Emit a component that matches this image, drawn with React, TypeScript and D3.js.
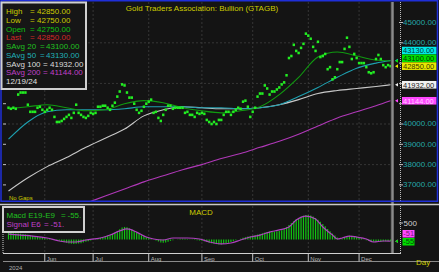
import React, { useEffect } from 'react';
import * as d3 from 'd3';

const W = 439;
const H = 272;

// trading days (weekdays) from 13 May 2024 to 19 Dec 2024
const firstDay = new Date(2024, 4, 13);
const lastDayExclusive = new Date(2024, 11, 20);

const closes = [
  40800, 40750, 40800, 40750, 41450, 41550, 41550, 41550, 40950, 40600,
  40600, 40600, 40800, 40850, 40700, 40600, 40700, 40800, 40700, 40350,
  40100, 40100, 40150, 40250, 40350, 40450, 40300, 40550, 40950, 40550,
  40450, 40350, 40300, 40400, 40550, 40500, 40550, 40850, 40850, 40900,
  40900, 40800, 40700, 40900, 41050, 41350, 41600, 41950, 41900, 41550,
  41300, 41300, 41000, 40700, 40550, 40650, 40850, 41000, 41100, 41200,
  40550, 40600, 40300, 40150, 40450, 40700, 40900, 40900, 40750, 40800,
  40800, 40800, 40800, 40550, 40600, 40450, 40450, 40350, 40550, 40500,
  40550, 40500, 40200, 40100, 40000, 40100, 40000, 40200, 40200, 40450,
  40600, 40600, 40450, 40600, 40700, 40800, 40750, 41100, 41150, 40850,
  40350, 40600, 40800, 41350, 41500, 41500, 41900, 41750, 41450, 41600,
  41600, 41700, 41800, 41950, 42050, 42400, 43250, 43350, 43900, 43600,
  43500, 43750, 43950, 44450, 44350, 44200, 43800, 43600, 44050, 43300,
  43350, 43450, 42700, 42800, 42200, 42300, 42700, 43050, 43050, 43700,
  44250, 43800, 43200, 43450, 43250, 43000, 43000, 43000, 42800, 42550,
  42500, 42550, 43200, 43400, 43200, 42900, 42800, 42900, 42850,
];

// moving averages read at these trading-day indices
const maIdx = [0, 8, 16, 24, 32, 40, 48, 56, 64, 72, 80, 88, 96, 104, 112, 120, 128, 136, 144, 152, 158];
const sma20 = [40750, 40850, 40950, 40800, 40650, 40700, 41000, 41150, 41050, 40800, 40650, 40550, 40650, 40850, 41450, 42300, 43300, 43550, 43350, 43150, 43100];
const sma50 = [39250, 40100, 40600, 40700, 40700, 40700, 40750, 40850, 40850, 40850, 40800, 40800, 40750, 40800, 40950, 41350, 41800, 42300, 42750, 43000, 43130];
const sma100 = [36700, 37350, 37900, 38350, 38850, 39300, 39750, 40400, 40700, 40850, 40800, 40750, 40750, 40800, 40950, 41200, 41500, 41650, 41750, 41850, 41932];
const sma200: (number | null)[] = [null, null, null, null, 36100, 36450, 36800, 37150, 37450, 37750, 38000, 38300, 38550, 38850, 39150, 39500, 39900, 40300, 40600, 40900, 41144];

const macd = [
  200, 195, 190, 185, 180, 175, 165, 155, 145, 130,
  115, 100, 85, 70, 55, 40, 30, 15, 5, -10,
  -25, -40, -60, -80, -100, -120, -130, -140, -130, -120,
  -110, -90, -70, -50, -30, -10, 10, 30, 50, 70,
  90, 110, 140, 170, 210, 260, 310, 360, 380, 370,
  340, 300, 260, 210, 170, 130, 100, 70, 50, 30,
  0, -30, -60, -90, -100, -90, -70, -40, -20, 0,
  10, 20, 25, 20, 15, 5, -5, -15, -20, -30,
  -40, -55, -75, -95, -115, -130, -140, -150, -150, -140,
  -120, -100, -75, -50, -25, 0, 20, 50, 70, 90,
  100, 110, 130, 150, 170, 190, 210, 230, 240, 240,
  240, 250, 260, 280, 320, 380, 440, 500, 560, 610,
  650, 690, 720, 740, 745, 730, 700, 650, 600, 540,
  470, 400, 320, 250, 180, 120, 60, 10, 30, 60,
  90, 110, 110, 100, 80, 60, 40, 10, -20, -45,
  -65, -70, -75, -70, -65, -60, -55, -55, -55,
];
const signalIdx = [0, 5, 10, 16, 21, 24, 28, 32, 38, 42, 46, 49, 53, 57, 60, 64, 68, 74, 79, 83, 88, 92, 96, 100, 104, 108, 112, 116, 119, 123, 127, 130, 134, 136, 138, 141, 144, 148, 151, 155, 158];
const signalVals = [165, 135, 105, 45, -45, -75, -75, -15, 45, 135, 260, 320, 225, 75, 15, -15, 45, 45, 15, -75, -135, -105, -15, 75, 135, 225, 290, 380, 590, 710, 620, 380, 135, 15, 45, 105, 75, 15, -75, -45, -51];

const priceTicks = [37000, 38000, 39000, 40000, 41000, 42000, 43000, 44000, 45000];
const priceGrid = [38000, 40000, 42000, 44000];
const monthNames = ['Jun', 'Jul', 'Aug', 'Sep', 'Oct', 'Nov', 'Dec'];
const monthNumbers = [5, 6, 7, 8, 9, 10, 11];

const legendLabels = ['High', 'Low', 'Open', 'Last', 'SAvg 20', 'SAvg 50', 'SAvg 100', 'SAvg 200'];
const legendValues = ['42850.00', '42750.00', '42750.00', '42850.00', '43100.00', '43130.00', '41932.00', '41144.00'];
const legendColors = ['#cccc00', '#cccc00', '#10c010', '#d02828', '#20c020', '#20b0b8', '#dcdcdc', '#c040c8'];
const legendDate = '12/19/24';

const lastValues = [43130, 43100, 42850, 41932, 41144];
const lastColors = ['#00e8e8', '#00e000', '#e8e800', '#f0f0f0', '#ff48ff'];
const lastTextColors = ['#053838', '#053805', '#383805', '#202020', '#ffd0ff'];

const title = 'Gold Traders Association: Bullion (GTAGB)';
const macdLast = -55;
const signalLast = -51;

const FONT = '"Liberation Sans", Arial, Helvetica, sans-serif';

export default function App() {
  useEffect(() => {
    document.body.style.margin = '0';
    document.body.style.background = '#141414';
  }, []);

  const days = d3.timeDay
    .range(firstDay, lastDayExclusive)
    .filter((d) => d.getDay() !== 0 && d.getDay() !== 6);

  const x = d3.scaleLinear().domain([0, days.length - 1]).range([8.5, 390.5]);
  const y = d3.scaleLinear().domain([36000, 46000]).range([205.2, 2.2]);
  const ym = d3.scaleLinear().domain([0, 500]).range([239.5, 223]);

  const monthIdx = monthNumbers.map((m) => days.findIndex((d) => d.getMonth() === m));

  const maLine = d3
    .line<number | null>()
    .defined((v) => v != null)
    .x((_, k) => x(maIdx[k]))
    .y((v) => y(v as number))
    .curve(d3.curveMonotoneX);

  const sigLine = d3
    .line<number>()
    .x((_, k) => x(signalIdx[k]))
    .y((v) => ym(v))
    .curve(d3.curveMonotoneX);

  // place last-value boxes bottom-up without overlap
  const order = lastValues.map((v, i) => i).sort((a, b) => lastValues[a] - lastValues[b]);
  const boxCenters: number[] = new Array(lastValues.length).fill(0);
  let prev = Infinity;
  order.forEach((i) => {
    let c = y(lastValues[i]);
    if (c > prev - 7.8) c = prev - 7.8;
    boxCenters[i] = c;
    prev = c;
  });

  // axis labels that sit under a value box are hidden, as in the original
  const visibleTicks = priceTicks.filter(
    (v) => !boxCenters.some((c) => Math.abs(c - y(v)) < 5.8)
  );

  const rowY = (r: number) => 14 + r * 8.75;
  const eqX = [30, 30, 30, 30, 40, 40, 43, 43];
  const valX = [37, 37, 37, 37, 46, 46, 50, 50];

  const gridColor = '#363636';

  return (
    <svg
      width={W}
      height={H}
      viewBox={`0 0 ${W} ${H}`}
      style={{ display: 'block', position: 'absolute', left: 0, top: 0 }}
      fontFamily={FONT}
    >
      <defs>
        <clipPath id="mainClip">
          <rect x={2} y={2} width={389} height={199} />
        </clipPath>
        <clipPath id="macdClip">
          <rect x={4} y={206} width={387} height={47} />
        </clipPath>
      </defs>
      <rect x={0} y={0} width={W} height={H} fill="#141414" />

      {/* main panel grid */}
      {priceGrid.map((v) => (
        <line key={'hg' + v} x1={4} x2={391} y1={y(v)} y2={y(v)} stroke={gridColor} strokeDasharray="2,2" />
      ))}
      {monthIdx.map((i, k) => (
        <g key={'vg' + k}>
          <line x1={x(i)} x2={x(i)} y1={2} y2={201} stroke={gridColor} strokeDasharray="2,2" />
          <line x1={x(i)} x2={x(i)} y1={206} y2={253} stroke={gridColor} strokeDasharray="2,2" />
        </g>
      ))}

      {/* left axis ticks */}
      {priceTicks.map((v) => (
        <line key={'lt' + v} x1={3} x2={6} y1={y(v)} y2={y(v)} stroke="#bdbdbd" />
      ))}

      {/* moving averages and closes */}
      <g clipPath="url(#mainClip)">
        <path d={maLine(sma200) || ''} fill="none" stroke="#b038b8" strokeWidth={1.1} />
        <path d={maLine(sma100) || ''} fill="none" stroke="#c8c8c8" strokeWidth={1.1} />
        <path d={maLine(sma50) || ''} fill="none" stroke="#1ea0b0" strokeWidth={1.1} />
        <path d={maLine(sma20) || ''} fill="none" stroke="#109a10" strokeWidth={1.1} />
        {closes.map((v, i) => (
          <rect key={'c' + i} x={x(i) - 1.2} y={y(v) - 1.3} width={2.4} height={2.6} fill="#22ee22" />
        ))}
      </g>

      {/* current day bar */}
      <rect x={390.8} y={2} width={3.2} height={251} fill="#6a6a6a" />
      <line x1={392.4} x2={392.4} y1={2} y2={253} stroke="#8e8e8e" strokeWidth={1} />

      {/* right price axis */}
      <line x1={400.5} x2={400.5} y1={2} y2={201} stroke="#bdbdbd" strokeDasharray="1,1" />
      {priceTicks.map((v) => (
        <line key={'rt' + v} x1={399} x2={403} y1={y(v)} y2={y(v)} stroke="#bdbdbd" />
      ))}
      {visibleTicks.map((v) => (
        <text key={'rl' + v} x={403} y={y(v) + 2.3} fontSize={8} fill="#24a8a8">
          {d3.format('.2f')(v)}
        </text>
      ))}
      {lastValues.map((v, i) => (
        <path key={'mk' + i} d={`M${395},${y(v)} l3,-1.8 l0,3.6 z`} fill={lastColors[i]} />
      ))}
      {lastValues.map((v, i) => (
        <g key={'lb' + i}>
          <rect x={402} y={boxCenters[i] - 3.8} width={34.5} height={7.6} fill={lastColors[i]} />
          <text x={403} y={boxCenters[i] + 2.8} fontSize={7.5} fill={lastTextColors[i]}>
            {d3.format('.2f')(v)}
          </text>
        </g>
      ))}

      {/* title */}
      <text x={202} y={10.5} fontSize={8} fill="#cccc00" textAnchor="middle">
        {title}
      </text>

      {/* no gaps */}
      <text x={9} y={200} fontSize={6} fill="#cccc00">
        No Gaps
      </text>

      {/* main frame */}
      <rect x={1} y={0.75} width={436.5} height={200.5} fill="none" stroke="#1f2fd8" strokeWidth={1.5} />
      <line x1={0} x2={W} y1={204.5} y2={204.5} stroke="#c8c8c8" strokeWidth={1.4} />

      {/* legend box */}
      <rect x={1.5} y={2.5} width={84.5} height={86.5} fill="#161616" stroke="#d0d0d0" strokeWidth={2} />
      {legendLabels.map((lab, r) => (
        <g key={'lg' + r} fill={legendColors[r]} fontSize={8}>
          <text x={6} y={rowY(r)}>{lab}</text>
          <text x={eqX[r]} y={rowY(r)}>=</text>
          <text x={valX[r]} y={rowY(r)}>{legendValues[r]}</text>
        </g>
      ))}
      <text x={6} y={rowY(8)} fontSize={8} fill="#e0e0e0">
        {legendDate}
      </text>

      {/* MACD panel */}
      <line x1={3} x2={3} y1={206} y2={253} stroke="#d0d0d0" strokeDasharray="1,1" />
      <g clipPath="url(#macdClip)">
        {macd.map((v, i) => (
          <line key={'h' + i} x1={x(i)} x2={x(i)} y1={ym(0)} y2={ym(v)} stroke="#12c412" strokeWidth={1.2} />
        ))}
        <path d={sigLine(signalVals) || ''} fill="none" stroke="#b040c0" strokeWidth={1.2} />
      </g>
      <text x={201} y={215} fontSize={8} fill="#cccc00" textAnchor="middle">
        MACD
      </text>
      <rect x={3} y={207} width={81} height={25} fill="#161616" stroke="#d0d0d0" strokeWidth={2} />
      <g fontSize={8}>
        <text x={6.5} y={218} fill="#20c020">Macd E19-E9</text>
        <text x={61} y={218} fill="#20c020">=</text>
        <text x={67.5} y={218} fill="#20c020">{macdLast + '.'}</text>
        <text x={6.5} y={226.5} fill="#c040c8">Signal E6</text>
        <text x={44} y={226.5} fill="#c040c8">=</text>
        <text x={50.5} y={226.5} fill="#c040c8">{signalLast + '.'}</text>
      </g>

      {/* MACD right axis */}
      <line x1={400.5} x2={400.5} y1={206} y2={253} stroke="#bdbdbd" strokeDasharray="1,1" />
      <line x1={399} x2={403} y1={ym(500)} y2={ym(500)} stroke="#bdbdbd" />
      <text x={403.5} y={ym(500) + 3} fontSize={8} fill="#d0d0d0">
        500
      </text>
      <path d={`M${395},${ym(signalLast)} l3,-1.8 l0,3.6 z`} fill="#ff48ff" />
      <path d={`M${395},${ym(macdLast)} l3,-1.8 l0,3.6 z`} fill="#00e000" />
      <rect x={402.5} y={230} width={12} height={7.5} fill="#ff48ff" />
      <text x={403.3} y={236.3} fontSize={7.5} fill="#7a1a7a">
        {signalLast}
      </text>
      <rect x={402.5} y={238} width={12} height={7.5} fill="#00dd00" />
      <text x={403.3} y={244.3} fontSize={7.5} fill="#0a4a0a">
        {macdLast}
      </text>

      {/* time axis */}
      <line x1={3} x2={401} y1={253.5} y2={253.5} stroke="#d0d0d0" strokeWidth={1} />
      <line x1={3} x2={W} y1={261.5} y2={261.5} stroke="#8a8a8a" strokeWidth={1} />
      {monthIdx.map((i, k) => (
        <g key={'mt' + k}>
          <line x1={x(i)} x2={x(i)} y1={253.5} y2={261.5} stroke="#c8c8c8" />
          <text x={x(i) + 2} y={260.5} fontSize={6} fill="#b8b8b8">
            {monthNames[k]}
          </text>
        </g>
      ))}
      <text x={9} y={269.5} fontSize={6} fill="#b0b0b0">
        {String(days[0].getFullYear())}
      </text>
      <text x={416} y={265} fontSize={8} fill="#cccc00">
        Day
      </text>
    </svg>
  );
}
